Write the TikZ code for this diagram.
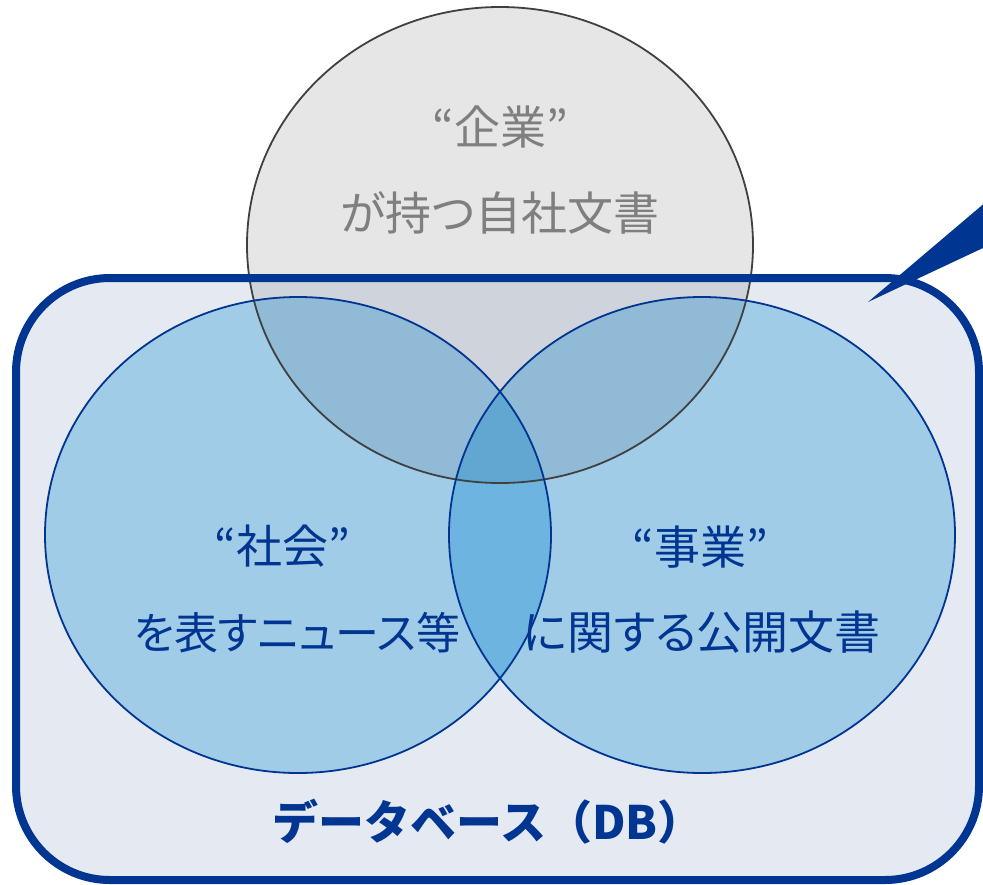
\documentclass[tikz,border=0pt]{standalone}
\usepackage{fontspec}
\newfontfamily\jp{Noto Sans CJK JP}[RawFeature=+palt]
\newfontfamily\jpfull{Noto Sans CJK JP}
\definecolor{dbblue}{HTML}{003591}
\definecolor{dbfill}{HTML}{E5E9F2}
\definecolor{setblue}{HTML}{A1CCE8}
\definecolor{bothblue}{HTML}{6DB4E0}
\definecolor{firmgray}{HTML}{E6E6E6}
\definecolor{firmdb}{HTML}{CFD3DC}
\definecolor{firmset}{HTML}{90BAD6}
\definecolor{firmboth}{HTML}{62A6D2}
\definecolor{firmline}{HTML}{404040}
\definecolor{firmink}{HTML}{7F7F7F}
\def\firmarea{(500,245) ellipse [x radius=253pt, y radius=238pt]}
\def\socarea{(298,535) ellipse [x radius=253pt, y radius=238pt]}
\def\bizarea{(702,535) ellipse [x radius=253pt, y radius=238pt]}
\def\dbarea{(16,278) rectangle (979,880)}

\begin{document}
\begin{tikzpicture}[x=1pt,y=-1pt,
	setline/.style={draw=dbblue,line width=1.8pt},
	settext/.style={inner sep=0pt,text=dbblue,font=\jp\fontsize{46}{52}\selectfont},
	firmtext/.style={inner sep=0pt,text=firmink,font=\jp\fontsize{46}{52}\selectfont},
	dbtext/.style={inner sep=0pt,text=dbblue,font=\jpfull\bfseries\fontsize{46}{52}\selectfont}]
			%%%%% START %%%%%
			\useasboundingbox (0,0) rectangle (983,884);
			\clip (0,0) rectangle (983,884);
			
			\fill[dbfill, rounded corners=94pt] \dbarea;
			
			\fill[firmgray] \firmarea;
			\begin{scope}
				\clip[rounded corners=94pt] \dbarea;
				\fill[firmdb] \firmarea;
			\end{scope}
			
			\fill[setblue] \socarea;
			\fill[setblue] \bizarea;
			\begin{scope}
				\clip \socarea;
				\fill[bothblue] \bizarea;
			\end{scope}
			\begin{scope}
				\clip \firmarea;
				\fill[firmset] \socarea;
				\fill[firmset] \bizarea;
				\clip \socarea;
				\fill[firmboth] \bizarea;
			\end{scope}
			
			\draw[firmline, line width=1.8pt] \firmarea;
			\draw[setline] \socarea;
			\draw[setline] \bizarea;
			\draw[dbblue, line width=8pt, rounded corners=94pt] \dbarea;
			
			\coordinate (tip) at (868, 302);
			\fill[dbblue] (tip) -- (1000, 190) -- (1000, 240) -- cycle;
			
			\node[firmtext] (firmname) at (500, 127) {“企業”};
			\node[firmtext] (firmdocs) at (500, 213) {が持つ自社文書};
			\node[settext] (socname) at (282, 546) {“社会”};
			\node[settext, font=\jp\fontsize{44}{52}\selectfont] (socdocs) at (297, 633) {を表すニュース等};
			\node[settext] (bizname) at (700, 547) {“事業”};
			\node[settext] (bizdocs) at (702, 632) {に関する公開文書};
			\node[dbtext] (dbname) at (488, 822) {データベース（DB）};
			
			%%%%% END %%%%%
\end{tikzpicture}
\end{document}
